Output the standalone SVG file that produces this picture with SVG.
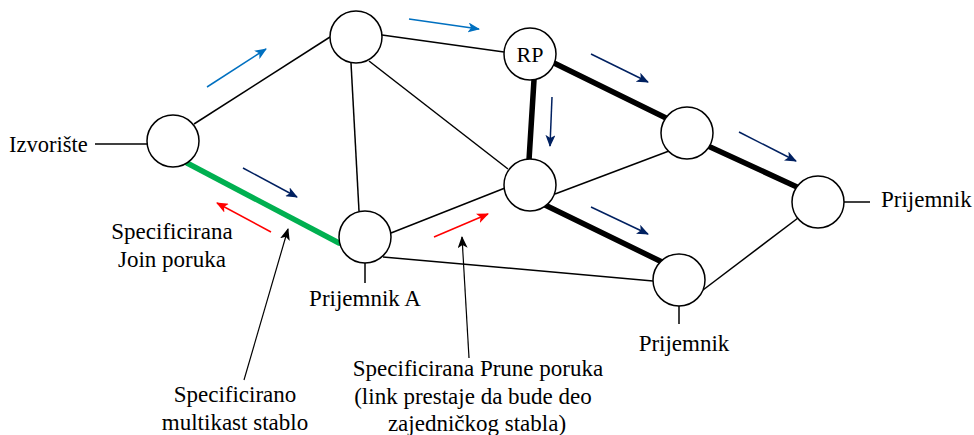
<svg xmlns="http://www.w3.org/2000/svg" width="974" height="435" viewBox="0 0 974 435">
  <style>
    .link { stroke: #000; stroke-width: 1.5; fill: none; }
    .tree { stroke: #000; stroke-width: 5.5; stroke-linecap: round; fill: none; }
    .join { stroke: #00B050; stroke-width: 5.5; stroke-linecap: round; fill: none; }
    .node { fill: #fff; stroke: #000; stroke-width: 1.5; }
    .lbl { font-family: "Liberation Serif", "Times New Roman", serif; font-size: 23px; fill: #000; }
    .c { text-anchor: middle; }
    .a-blue { stroke: #0070C0; stroke-width: 1.5; marker-end: url(#hBlue); }
    .a-navy { stroke: #002060; stroke-width: 1.5; marker-end: url(#hNavy); }
    .a-red { stroke: #FF0000; stroke-width: 1.5; marker-end: url(#hRed); }
    .a-black { stroke: #000; stroke-width: 1.2; marker-end: url(#hBlack); }
  </style>
  <defs>
    <marker id="hBlue" viewBox="0 0 12 10" refX="11" refY="5" markerWidth="12" markerHeight="10" markerUnits="userSpaceOnUse" orient="auto">
      <path d="M0,0 L12,5 L0,10 L3,5 Z" fill="#0070C0"/>
    </marker>
    <marker id="hNavy" viewBox="0 0 12 10" refX="11" refY="5" markerWidth="12" markerHeight="10" markerUnits="userSpaceOnUse" orient="auto">
      <path d="M0,0 L12,5 L0,10 L3,5 Z" fill="#002060"/>
    </marker>
    <marker id="hRed" viewBox="0 0 12 10" refX="11" refY="5" markerWidth="12" markerHeight="10" markerUnits="userSpaceOnUse" orient="auto">
      <path d="M0,0 L12,5 L0,10 L3,5 Z" fill="#FF0000"/>
    </marker>
    <marker id="hBlack" viewBox="0 0 12 10" refX="11" refY="5" markerWidth="12" markerHeight="10" markerUnits="userSpaceOnUse" orient="auto">
      <path d="M0,0 L12,5 L0,10 L3,5 Z" fill="#000"/>
    </marker>
  </defs>

  <g id="connectors">
    <!-- plain links -->
    <line class="link" x1="95" y1="144" x2="148" y2="144"/>
    <line class="link" x1="194" y1="124" x2="330" y2="37"/>
    <line class="link" x1="382" y1="35" x2="504" y2="52"/>
    <line class="link" x1="351" y1="63" x2="359" y2="211"/>
    <line class="link" x1="369" y1="61" x2="508" y2="169"/>
    <line class="link" x1="555" y1="194" x2="669" y2="151"/>
    <line class="link" x1="391" y1="233" x2="505" y2="188"/>
    <line class="link" x1="383" y1="257" x2="653" y2="281"/>
    <line class="link" x1="703" y1="290" x2="798" y2="218"/>
    <line class="link" x1="365" y1="263" x2="365" y2="283"/>
    <line class="link" x1="679" y1="306" x2="679" y2="324"/>
    <line class="link" x1="844" y1="202" x2="870" y2="202"/>
    <!-- shared tree links -->
    <line class="tree" x1="554" y1="63" x2="666" y2="118"/>
    <line class="tree" x1="534" y1="80" x2="529" y2="160"/>
    <line class="tree" x1="545" y1="205" x2="662" y2="262"/>
    <line class="tree" x1="708" y1="146" x2="797" y2="187"/>
    <!-- specified join branch -->
    <line class="join" x1="187" y1="163" x2="339" y2="243"/>

    <!-- traffic direction arrows -->
    <line class="a-blue" x1="207" y1="87" x2="266" y2="49"/>
    <line class="a-blue" x1="409" y1="19" x2="479" y2="29"/>
    <line class="a-navy" x1="591" y1="54" x2="648" y2="82"/>
    <line class="a-navy" x1="552" y1="97" x2="550" y2="146"/>
    <line class="a-navy" x1="591" y1="207" x2="648" y2="234"/>
    <line class="a-navy" x1="739" y1="132" x2="796" y2="161"/>
    <line class="a-navy" x1="243" y1="168" x2="297" y2="197"/>
    <line class="a-red" x1="271" y1="232" x2="217" y2="203"/>
    <line class="a-red" x1="434" y1="237" x2="488" y2="214"/>
    <!-- callout pointers -->
    <line class="a-black" x1="244" y1="380" x2="288" y2="229"/>
    <line class="a-black" x1="469" y1="358" x2="462" y2="237"/>
  </g>

  <g id="izvoriste">
    <circle class="node" cx="173" cy="141" r="26"/>
    <text class="lbl" x="9" y="152" style="font-size:22.5px">Izvorište</text>
  </g>
  <g id="top-router">
    <circle class="node" cx="356" cy="37" r="26"/>
  </g>
  <g id="rp">
    <circle class="node" cx="530" cy="54" r="26"/>
    <text class="lbl c" x="530" y="62" style="font-size:22px">RP</text>
  </g>
  <g id="center-router">
    <circle class="node" cx="530" cy="185" r="26"/>
  </g>
  <g id="right-router">
    <circle class="node" cx="687" cy="133" r="26"/>
  </g>
  <g id="prijemnik-a">
    <circle class="node" cx="365" cy="237" r="26"/>
    <text class="lbl c" x="365" y="306">Prijemnik A</text>
  </g>
  <g id="prijemnik-bottom">
    <circle class="node" cx="679" cy="280" r="26"/>
    <text class="lbl c" x="684" y="351">Prijemnik</text>
  </g>
  <g id="prijemnik-right">
    <circle class="node" cx="818" cy="202" r="26"/>
    <text class="lbl" x="881" y="207">Prijemnik</text>
  </g>

  <g id="labels">
    <text class="lbl c" x="172" y="239">Specificirana</text>
    <text class="lbl c" x="172" y="267">Join poruka</text>
    <text class="lbl c" x="235" y="402">Specificirano</text>
    <text class="lbl c" x="235" y="430">multikast stablo</text>
    <text class="lbl c" x="478" y="376">Specificirana Prune poruka</text>
    <text class="lbl c" x="473" y="404">(link prestaje da bude deo</text>
    <text class="lbl c" x="477" y="431">zajedničkog stabla)</text>
  </g>
</svg>
